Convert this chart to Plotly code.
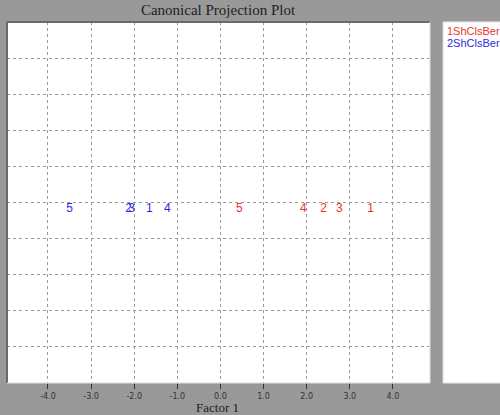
import plotly.graph_objects as go

# canonical scores on factor 1 (factor 2 is flat here)
group_names = ["1ShClsBer", "2ShClsBer"]
group_colors = ["#e8332e", "#2b2bdc"]
point_labels = ["1", "2", "3", "4", "5"]
g1_factor1 = [3.48, 2.39, 2.76, 1.92, 0.44]
g1_factor2 = [0.0, 0.0, 0.0, 0.0, 0.0]
g2_factor1 = [-1.65, -2.13, -2.06, -1.23, -3.50]
g2_factor2 = [0.0, 0.0, 0.0, 0.0, 0.0]
x_ticks = [-4.0, -3.0, -2.0, -1.0, 0.0, 1.0, 2.0, 3.0, 4.0]
x_ticktext = ["%.1f" % v for v in x_ticks]

fig = go.Figure()
for xs, ys, col, name in [(g1_factor1, g1_factor2, group_colors[0], group_names[0]),
                          (g2_factor1, g2_factor2, group_colors[1], group_names[1])]:
    fig.add_trace(go.Scatter(
        x=xs, y=ys, mode="text", text=point_labels, name=name,
        textposition="bottom center",
        textfont=dict(family="Liberation Sans", size=12, color=col),
        showlegend=False, hoverinfo="x+text",
    ))

fig.update_xaxes(
    range=[-4.95, 4.86], tickvals=x_ticks, ticktext=x_ticktext,
    showgrid=True, gridcolor="#9a9a9a", griddash="dot", gridwidth=1,
    zeroline=False, ticks="outside", ticklen=5, tickcolor="#333",
    tickfont=dict(family="DejaVu Sans", size=8, color="#333"),
)
fig.update_yaxes(
    range=[-5, 5], dtick=1, showticklabels=False,
    showgrid=True, gridcolor="#9a9a9a", griddash="dot", gridwidth=1,
    zeroline=False,
)

# sunken border of the plot area and the white legend panel
fig.add_shape(type="line", xref="paper", yref="paper", x0=0, x1=0, y0=0, y1=1,
              line=dict(color="#6a6a6a", width=2))
fig.add_shape(type="line", xref="paper", yref="paper", x0=0, x1=1, y0=1, y1=1,
              line=dict(color="#6a6a6a", width=2))
fig.add_shape(type="line", xref="paper", yref="paper", x0=0, x1=1, y0=0, y1=0,
              line=dict(color="#e0e0e0", width=1))
fig.add_shape(type="line", xref="paper", yref="paper", x0=1, x1=1, y0=0, y1=1,
              line=dict(color="#e0e0e0", width=1))
fig.add_shape(type="rect", xref="paper", yref="paper", x0=1.031, x1=1.2, y0=0, y1=1,
              fillcolor="white", line=dict(color="#e8e8e8", width=1))

for i, (name, col) in enumerate(zip(group_names, group_colors)):
    fig.add_annotation(
        text=name, xref="paper", yref="paper", x=1.036, y=0.975 - i * 0.034,
        xanchor="left", yanchor="middle", showarrow=False,
        font=dict(family="Liberation Sans", size=11, color=col),
    )

fig.add_annotation(
    text="Factor 1", xref="paper", yref="paper", x=0.498, y=-0.068,
    xanchor="center", yanchor="middle", showarrow=False,
    font=dict(family="Liberation Serif", size=13, color="#222"),
)

fig.update_layout(
    width=500, height=415,
    margin=dict(l=7, r=70, t=22, b=32),
    paper_bgcolor="#999999", plot_bgcolor="white",
    title=dict(text="Canonical Projection Plot", x=0.436, xanchor="center",
               y=0.976, yanchor="middle", yref="container",
               font=dict(family="Liberation Serif", size=15, color="#222")),
)

# page body has a default margin; drop it so the figure sits at the corner
fig.write_html("out.html", config={"displayModeBar": False},
               post_script="document.body.style.margin='0';")
